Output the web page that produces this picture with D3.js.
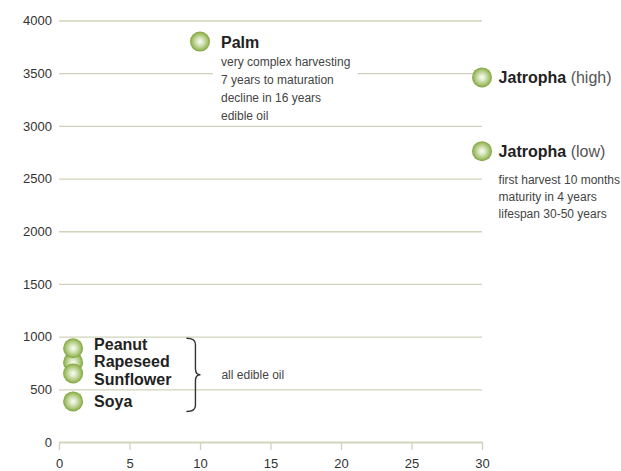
<!DOCTYPE html>
<html>
<head>
<meta charset="utf-8">
<script src="https://cdn.jsdelivr.net/npm/d3@7"></script>
<style>
  body { margin: 0; background: #fff; }
  svg { display: block; font-family: Arial, "Liberation Sans", Helvetica, sans-serif; }
</style>
</head>
<body>
<script>
// data
const crops = ['Palm', 'Jatropha', 'Jatropha', 'Rapeseed', 'Peanut', 'Sunflower', 'Soya'];
const qualifiers = ['', 'high', 'low', '', '', '', ''];
const years = [10, 30, 30, 1, 1, 1, 1];
const yields = [3800, 3460, 2760, 755, 890, 650, 385];
const notes = [
  ['very complex harvesting', '7 years to maturation', 'decline in 16 years', 'edible oil'],
  [],
  ['first harvest 10 months', 'maturity in 4 years', 'lifespan 30-50 years'],
  [], [], [], []
];
const groupMembers = ['Peanut', 'Rapeseed', 'Sunflower', 'Soya'];
const groupNote = 'all edible oil';
const xTicks = [0, 5, 10, 15, 20, 25, 30];
const yTicks = [0, 500, 1000, 1500, 2000, 2500, 3000, 3500, 4000];

const W = 621, H = 471;
const margin = { left: 59, right: 139, top: 20.5, bottom: 29 };
const gridColor = '#d0d3bb';
const R = 10;

const svg = d3.select('body').append('svg')
  .attr('width', W).attr('height', H);

const x = d3.scaleLinear().domain([0, 30]).range([margin.left, W - margin.right]);
const y = d3.scaleLinear().domain([0, 4000]).range([H - margin.bottom, margin.top]);

// gradient for the bubbles
const grad = svg.append('defs').append('radialGradient')
  .attr('id', 'bub').attr('cx', '50%').attr('cy', '50%').attr('r', '50%');
grad.append('stop').attr('offset', '0%').attr('stop-color', '#fbfdf6');
grad.append('stop').attr('offset', '35%').attr('stop-color', '#d8e6c0');
grad.append('stop').attr('offset', '78%').attr('stop-color', '#a2c068');
grad.append('stop').attr('offset', '100%').attr('stop-color', '#7ea23e');

// y grid + labels
const gy = svg.append('g')
  .attr('transform', `translate(${margin.left},0)`)
  .call(d3.axisLeft(y).tickValues(yTicks).tickFormat(d3.format('d'))
    .tickSize(-(x.range()[1] - x.range()[0])).tickPadding(7));
gy.select('.domain').remove();
gy.selectAll('.tick line').attr('stroke', gridColor).attr('stroke-width', 1.3);
gy.selectAll('.tick text').attr('fill', '#333').attr('font-size', 13)
  .style('font-family', 'inherit');

// x axis
const gx = svg.append('g')
  .attr('transform', `translate(0,${y(0)})`)
  .call(d3.axisBottom(x).tickValues(xTicks).tickSize(8).tickSizeOuter(0).tickPadding(9));
gx.select('.domain').attr('stroke', gridColor).attr('stroke-width', 1.3);
gx.selectAll('.tick line').attr('stroke', gridColor).attr('stroke-width', 1.3);
gx.selectAll('.tick text').attr('fill', '#333').attr('font-size', 13)
  .style('font-family', 'inherit');

const pts = crops.map((c, i) => ({
  name: c, q: qualifiers[i], cx: x(years[i]), cy: y(yields[i]), notes: notes[i]
}));

// label placement: stack labels of close bubbles around their mean
const byY = pts.slice().sort((a, b) => a.cy - b.cy);
const clusters = [];
byY.forEach(p => {
  const last = clusters[clusters.length - 1];
  if (last && last[0].cx === p.cx && p.cy - last[last.length - 1].cy < 18) last.push(p);
  else clusters.push([p]);
});
clusters.forEach(cl => {
  const mean = d3.mean(cl, p => p.cy);
  cl.forEach((p, j) => { p.ly = mean + (j - (cl.length - 1) / 2) * 17.5 + 6; });
});

// measure note widths so labels near the right edge stay inside,
// and keep labels in one column aligned
const probe = svg.append('text').attr('font-size', 12);
pts.forEach(p => {
  let w = 0;
  p.notes.forEach(t => { probe.text(t); w = Math.max(w, probe.node().getComputedTextLength()); });
  p.lx = Math.min(p.cx + 21, W - w - 1);
});
probe.remove();
d3.group(pts, p => p.cx).forEach(col => {
  const lx = d3.min(col, p => p.lx);
  col.forEach(p => { p.lx = lx; });
});

const noteLayer = svg.append('g');
const dotLayer = svg.append('g');
const textLayer = svg.append('g');

dotLayer.selectAll('circle').data(pts).join('circle')
  .attr('cx', d => d.cx).attr('cy', d => d.cy).attr('r', R)
  .attr('fill', 'url(#bub)');

const labels = textLayer.selectAll('text.lbl').data(pts).join('text')
  .attr('class', 'lbl')
  .attr('x', d => d.lx).attr('y', d => d.ly)
  .attr('font-size', 16).attr('font-weight', 'bold').attr('fill', '#222')
  .text(d => d.name);
labels.filter(d => d.q).append('tspan')
  .attr('font-weight', 'normal').attr('fill', '#555')
  .text(d => ` (${d.q})`);

// descriptions with a white backing
pts.filter(d => d.notes.length).forEach(d => {
  const g = textLayer.append('g');
  const top = d.q ? 27 : 18.5;
  d.notes.forEach((t, j) => {
    g.append('text')
      .attr('x', d.lx).attr('y', d.ly + top + j * (d.q ? 17 : 18))
      .attr('font-size', 12).attr('fill', '#444')
      .text(t);
  });
  const bb = g.node().getBBox();
  noteLayer.append('rect')
    .attr('x', bb.x - 8).attr('y', bb.y - 1)
    .attr('width', bb.width + 15).attr('height', bb.height + 1)
    .attr('fill', '#fff');
});

// curly brace for the edible oil group
const members = pts.filter(d => groupMembers.includes(d.name));
const maxRight = d3.max(labels.filter(d => groupMembers.includes(d.name)).nodes(),
  n => n.getBBox().x + n.getBBox().width);
const bx0 = maxRight + 15, bxm = bx0 + 9, btip = bx0 + 14;
const by1 = d3.min(members, d => d.cy) - R, by2 = d3.max(members, d => d.cy) + R;
const bym = (by1 + by2) / 2, br = 6;
const brace = d3.path();
brace.moveTo(bx0, by1);
brace.quadraticCurveTo(bxm, by1, bxm, by1 + br);
brace.lineTo(bxm, bym - br);
brace.quadraticCurveTo(bxm, bym, btip, bym);
brace.quadraticCurveTo(bxm, bym, bxm, bym + br);
brace.lineTo(bxm, by2 - br);
brace.quadraticCurveTo(bxm, by2, bx0, by2);
textLayer.append('path').attr('d', brace.toString())
  .attr('fill', 'none').attr('stroke', '#333').attr('stroke-width', 1.4);
textLayer.append('text')
  .attr('x', btip + 21).attr('y', bym).attr('dy', '0.35em')
  .attr('font-size', 12).attr('fill', '#444')
  .text(groupNote);
</script>
</body>
</html>
